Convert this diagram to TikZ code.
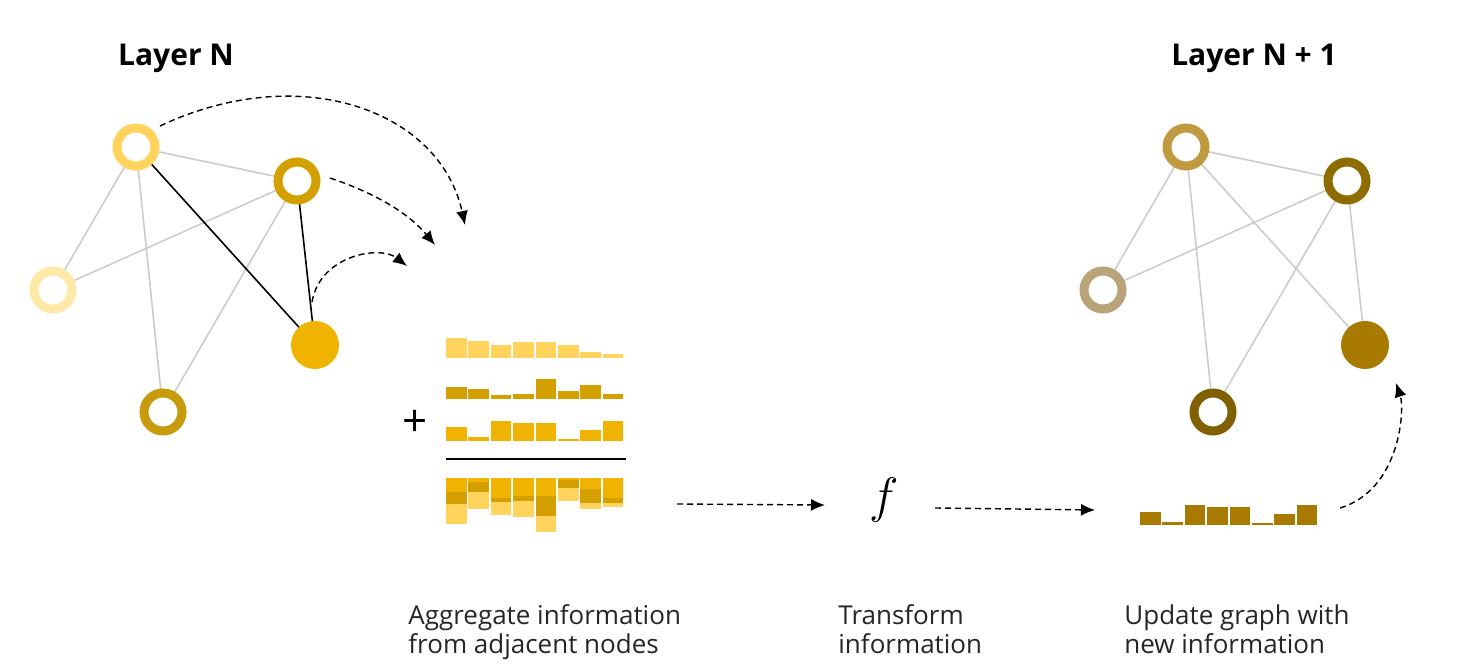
\documentclass[tikz,border=0pt]{standalone}
\usepackage{fontspec}
\setmainfont{Open Sans}
\usetikzlibrary{arrows.meta}
\definecolor{cA}{HTML}{FFD35C}\definecolor{cB}{HTML}{D4A000}\definecolor{cC}{HTML}{FFE9A8}
\definecolor{cD}{HTML}{C89B0C}\definecolor{cE}{HTML}{F0B400}
\definecolor{dA}{HTML}{C09A40}\definecolor{dB}{HTML}{8F6C00}\definecolor{dC}{HTML}{B8A478}
\definecolor{dD}{HTML}{806000}\definecolor{dE}{HTML}{A87B00}
\definecolor{edge}{HTML}{CCCCCC}
\begin{document}
\begin{tikzpicture}[x=0.5pt,y=-0.5pt,
  ring/.style={circle,draw=#1,line width=4.5pt,minimum size=19pt,inner sep=0pt,fill=white},
  dot/.style={circle,fill=#1,minimum size=24pt,inner sep=0pt},
  ge/.style={draw=edge,line width=0.8pt},
  be/.style={draw=black,line width=0.8pt},
  da/.style={densely dashed,line width=0.7pt,-{Latex[length=7pt,width=6pt]}},
  lab/.style={align=left,anchor=north west,font=\fontsize{13}{14.5}\selectfont,inner sep=0pt,text=black!85},
  ttl/.style={font=\fontsize{15}{18}\selectfont\bfseries}]
\useasboundingbox (0,0) rectangle (1471,672);
% Layer N
\node[ttl] (t1) at (176,58) {Layer N};
\coordinate (A) at (136,147);\coordinate (B) at (297,181);\coordinate (C) at (53,290);
\coordinate (D) at (163,412);\coordinate (E) at (315,345);
\draw[ge] (A)--(B) (A)--(C) (A)--(D) (B)--(C) (B)--(D);
\draw[be] (A)--(E) (B)--(E);
\node[ring=cA] (nA) at (A) {};\node[ring=cB] (nB) at (B) {};\node[ring=cC] (nC) at (C) {};
\node[ring=cD] (nD) at (D) {};\node[dot=cE] (nE) at (E) {};
\coordinate (t1a) at (465,225);\coordinate (t2a) at (435,245);\coordinate (t3a) at (407,266);
\draw[da] (160,126) .. controls (300,60) and (440,110) .. (t1a);
\draw[da] (330,178) .. controls (380,195) and (410,215) .. (t2a);
\draw[da] (312,302) .. controls (320,255) and (380,245) .. (t3a);
% bars
\foreach \h [count=\i] in {20,17,13,16,16,13,6,4}{\fill[cA] ({446+(\i-1)*22.4},358) rectangle ++(20.5,-\h);}
\foreach \h [count=\i] in {12,10,4,5,20,8,14,5}{\fill[cB] ({446+(\i-1)*22.4},399) rectangle ++(20.5,-\h);}
\foreach \h [count=\i] in {14,4,20,18,18,2,11,20}{\fill[cE] ({446+(\i-1)*22.4},441) rectangle ++(20.5,-\h);}
\foreach \a/\b/\c [count=\i] in {14/12/20,4/10/17,20/4/13,18/5/16,18/20/16,2/8/13,11/14/6,20/5/4}{
  \fill[cE] ({446+(\i-1)*22.4},478) rectangle ++(20.5,\a);
  \fill[cB] ({446+(\i-1)*22.4},{478+\a}) rectangle ++(20.5,\b);
  \fill[cA] ({446+(\i-1)*22.4},{478+\a+\b}) rectangle ++(20.5,\c);}
\node[font=\fontsize{22}{22}\selectfont] (plus) at (415,423) {+};
\draw[line width=0.9pt] (446,459) -- (626,459);
% f
\node[font=\fontsize{28}{28}\selectfont] (f) at (884,500) {$f$};
\coordinate (a1s) at (677,504);\coordinate (a1e) at (825,505);
\coordinate (a2s) at (935,508);\coordinate (a2e) at (1095,510);
\draw[da] (a1s) -- (a1e);\draw[da] (a2s) -- (a2e);
% result bars
\foreach \h [count=\i] in {13,3,20,18,18,2,11,20}{\fill[dE] ({1140+(\i-1)*22.4},525) rectangle ++(20.5,-\h);}
\coordinate (cs) at (1340,508);\coordinate (ce) at (1396,383);
\draw[da] (cs) .. controls (1400,490) and (1405,410) .. (ce);
% Layer N+1
\node[ttl] (t2) at (1254,58) {Layer N + 1};
\coordinate (A2) at (1186,147);\coordinate (B2) at (1347,181);\coordinate (C2) at (1103,290);
\coordinate (D2) at (1213,412);\coordinate (E2) at (1365,345);
\draw[ge] (A2)--(B2) (A2)--(C2) (A2)--(D2) (A2)--(E2) (B2)--(C2) (B2)--(D2) (B2)--(E2);
\node[ring=dA] (mA) at (A2) {};\node[ring=dB] (mB) at (B2) {};\node[ring=dC] (mC) at (C2) {};
\node[ring=dD] (mD) at (D2) {};\node[dot=dE] (mE) at (E2) {};
% labels
\node[lab] (l1) at (408,604) {Aggregate information\\from adjacent nodes};
\node[lab] (l2) at (838,604) {Transform\\information};
\node[lab] (l3) at (1124,604) {Update graph with\\new information};
\end{tikzpicture}
\end{document}
